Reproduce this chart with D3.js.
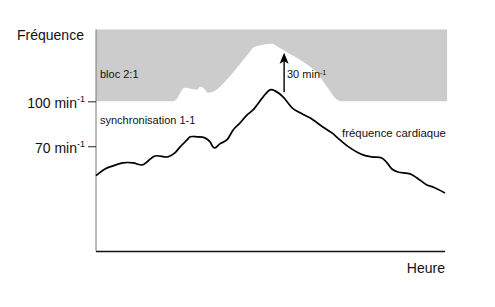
<!DOCTYPE html>
<html>
<head>
<meta charset="utf-8">
<script src="https://cdn.jsdelivr.net/npm/d3@7"></script>
<style>
  body { margin: 0; background: #fff; }
  svg { display: block; font-family: "Liberation Sans", Arial, sans-serif; }
  .lbl { font-size: 11px; fill: #111; }
</style>
</head>
<body>
<div class="container"></div>
<script>
// heart rate (time in arbitrary units 0..100, value in min-1)
const hrTime = [0, 2.6, 4.9, 7.7, 10.6, 13.2, 14.6, 16.9, 20.6, 22.6, 24.1, 26.1, 27, 29, 31.2, 32.7, 33.5, 34.1, 35.5, 37.5, 39.3, 41.3, 43.3, 45, 47.9, 49.9, 51.3, 53.6, 56.2, 57.9, 61.3, 65, 67.6, 69.9, 72.8, 76.5, 79.1, 81.9, 83.4, 84.8, 86.5, 90, 92, 94.8, 96.6, 100];
const hrValue = [50.4, 54.8, 56.9, 58.9, 58.9, 57.5, 59.5, 63.5, 62.9, 65.6, 69.6, 74.2, 76.3, 76.3, 75.6, 72.9, 69.6, 68.9, 71.6, 74.2, 80.9, 85.6, 91, 94.3, 103, 107.7, 107, 103, 95.7, 93, 89, 82.9, 78.9, 74.2, 68.9, 64.2, 62.9, 62.2, 58.9, 54.8, 52.8, 51.5, 48.8, 44.1, 42.8, 38.8];

// lower edge of the "bloc 2:1" zone
const blocTime = [0, 22.1, 23.2, 24.6, 25.5, 28.9, 29.8, 30.7, 32.1, 33.5, 37.5, 41.3, 44.1, 45, 47.9, 50.4, 52.1, 55, 59.3, 63.3, 66.2, 69.1, 70.5, 100.6];
const blocValue = [100, 100, 101.7, 107.7, 109, 107.7, 109.7, 109, 105.7, 106.4, 114.4, 125.1, 133.1, 135.8, 137.8, 138.5, 136.5, 132.4, 126.4, 119.1, 109.7, 101, 100, 100];

const yTicks = [70, 100];
const yMax = 148;
const arrow = { t: 53.9, from: 106, to: 132.5 };

const W = 495, H = 307;
const svg = d3.select(".container").append("svg")
  .attr("width", W).attr("height", H);

const x = d3.scaleLinear().domain([0, 100]).range([96, 445]);
const y = d3.scaleLinear().domain([0, yMax]).range([251, 29.5]);

const hr = hrTime.map((t, i) => ({ t, v: hrValue[i] }));
const bloc = blocTime.map((t, i) => ({ t, v: blocValue[i] }));

// grey zone
svg.append("path")
  .datum(bloc)
  .attr("fill", "#cccccc")
  .attr("d", d3.area()
    .curve(d3.curveMonotoneX)
    .x(d => x(d.t))
    .y0(y(yMax))
    .y1(d => y(d.v)));

// axes
svg.append("line")
  .attr("x1", x(0)).attr("x2", x(0))
  .attr("y1", y(0)).attr("y2", y(yMax))
  .attr("stroke", "#777").attr("stroke-width", 1);
svg.append("line")
  .attr("x1", x(0)).attr("x2", x(100))
  .attr("y1", y(0) + 0.5).attr("y2", y(0) + 0.5)
  .attr("stroke", "#111").attr("stroke-width", 1.3);

const yAxis = svg.append("g")
  .attr("transform", `translate(${x(0)},0)`)
  .call(d3.axisLeft(y).tickValues(yTicks).tickSize(8).tickPadding(3).tickFormat(""));
yAxis.select(".domain").remove();
yAxis.selectAll(".tick line").attr("stroke", "#222");
yAxis.selectAll(".tick text").each(function (d) {
  const t = d3.select(this)
    .attr("fill", "#111")
    .attr("font-size", 14)
    .attr("font-family", "Liberation Sans, Arial, sans-serif")
    .attr("dy", "0.45em");
  t.append("tspan").text(`${d} min`);
  t.append("tspan").attr("font-size", 9).attr("dy", "-0.7em").text("-1");
});

// heart rate line
svg.append("path")
  .datum(hr)
  .attr("fill", "none")
  .attr("stroke", "#000")
  .attr("stroke-width", 1.7)
  .attr("stroke-linejoin", "round")
  .attr("d", d3.line()
    .curve(d3.curveCatmullRom)
    .x(d => x(d.t))
    .y(d => y(d.v)));

// arrow 30 min-1
const ax = x(arrow.t), ay0 = y(arrow.from), ay1 = y(arrow.to);
svg.append("line")
  .attr("x1", ax).attr("x2", ax)
  .attr("y1", ay0).attr("y2", ay1 + 8)
  .attr("stroke", "#000").attr("stroke-width", 1.4);
svg.append("path")
  .attr("d", `M${ax},${ay1} L${ax - 4.5},${ay1 + 11} L${ax},${ay1 + 8.5} L${ax + 4.5},${ay1 + 11} Z`)
  .attr("fill", "#000");

// labels
svg.append("text").attr("x", 17).attr("y", 40)
  .attr("font-size", 14).attr("fill", "#111").text("Fréquence");
svg.append("text").attr("x", 445).attr("y", 273).attr("text-anchor", "end")
  .attr("font-size", 14).attr("fill", "#111").text("Heure");
svg.append("text").attr("class", "lbl").attr("x", 100).attr("y", 78).text("bloc 2:1");
svg.append("text").attr("class", "lbl").attr("x", 100).attr("y", 124).text("synchronisation 1-1");
svg.append("text").attr("class", "lbl").attr("x", 342).attr("y", 137)
  .style("font-size", "11.4px").text("fréquence cardiaque");
const t30 = svg.append("text").attr("class", "lbl").attr("x", 287).attr("y", 78);
t30.append("tspan").text("30 min");
t30.append("tspan").attr("font-size", 7).attr("dy", "-0.5em").text("-1");
</script>
</body>
</html>
